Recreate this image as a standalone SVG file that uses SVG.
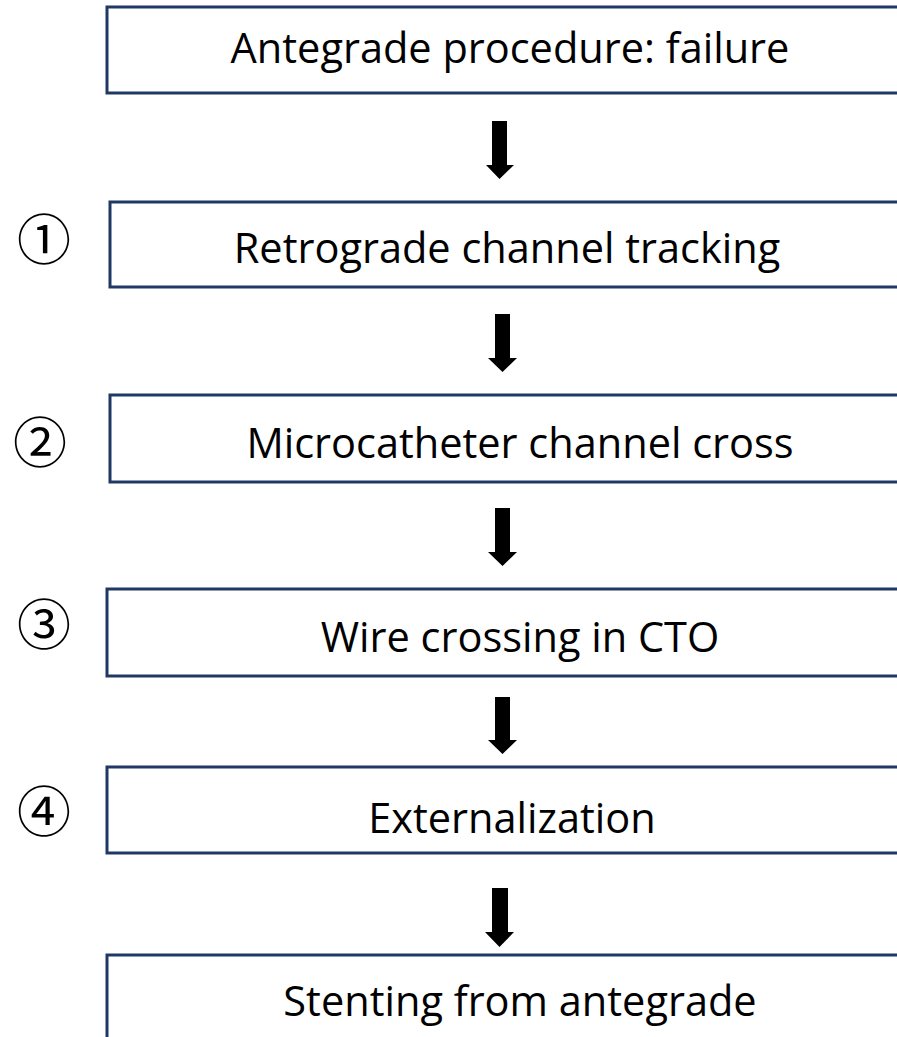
<svg xmlns="http://www.w3.org/2000/svg" width="897" height="1037" viewBox="0 0 897 1037">
<style>
.box{fill:#ffffff;stroke:#1f3864;stroke-width:3}
.lbl{font-family:"Open Sans","Noto Sans","Liberation Sans",sans-serif;font-size:41.5px;fill:#000;text-anchor:middle}
.num{font-family:"Noto Sans CJK JP","Noto Sans CJK SC",sans-serif;font-size:54px;fill:#000;text-anchor:middle}
.arr{fill:#000}
</style>
<rect width="897" height="1037" fill="#ffffff"/>
<g id="n1"><rect class="box" x="107" y="7" width="800" height="86"/><text class="lbl" x="510" y="63">Antegrade procedure: failure</text></g>
<g id="n2"><rect class="box" x="110" y="202" width="800" height="85"/><text class="lbl" x="507" y="263">Retrograde channel tracking</text><text class="num" x="44" y="260">①</text></g>
<g id="n3"><rect class="box" x="110" y="395" width="800" height="87"/><text class="lbl" x="520" y="458">Microcatheter channel cross</text><text class="num" x="40" y="463">②</text></g>
<g id="n4"><rect class="box" x="107" y="589" width="800" height="87"/><text class="lbl" x="520" y="652">Wire crossing in CTO</text><text class="num" x="44" y="645">③</text></g>
<g id="n5"><rect class="box" x="107" y="767" width="800" height="86"/><text class="lbl" x="512" y="833">Externalization</text><text class="num" x="44" y="832">④</text></g>
<g id="n6"><rect class="box" x="107" y="955" width="800" height="100"/><text class="lbl" x="520" y="1016">Stenting from antegrade</text></g>
<g id="connectors">
<polygon class="arr" points="492,121 507,121 507,165 514,165 499.5,179 486,165 492,165"/>
<polygon class="arr" points="495,314 510,314 510,358 517,358 502.5,372 488,358 495,358"/>
<polygon class="arr" points="495,508 510,508 510,552 517,552 502.5,566 488,552 495,552"/>
<polygon class="arr" points="495,697 510,697 510,740 517,740 502.5,754 488,740 495,740"/>
<polygon class="arr" points="492,888 508,888 508,932 514,932 499.5,947 485,932 492,932"/>
</g>
</svg>
